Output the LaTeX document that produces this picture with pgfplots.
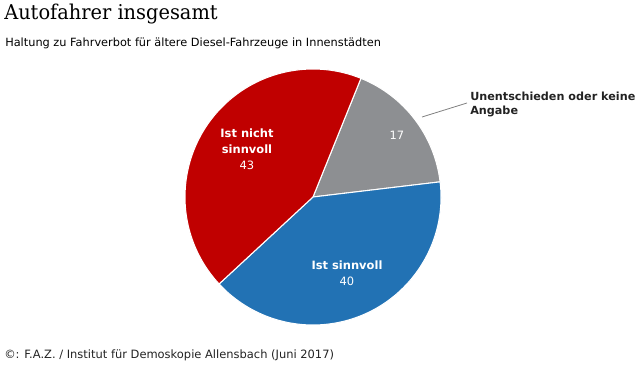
\documentclass[border=0pt]{standalone}
\usepackage{fontspec}
\setmainfont{DejaVu Sans}
\newfontfamily\titlefont[FakeStretch=0.95]{DejaVu Serif}
\usepackage{pgfplots}
\usepackage{pgfplotstable}
\pgfplotsset{compat=1.18}
\definecolor{cred}{HTML}{C00000}
\definecolor{cblue}{HTML}{2272B4}
\definecolor{cgrey}{HTML}{8D8F92}
\definecolor{ctext}{HTML}{222222}
\pgfplotstableread{
label value
Unentschieden 17
Sinnvoll 40
Nichtsinnvoll 43
}\piedata
\begin{document}
\begin{tikzpicture}
\pgfplotstablegetelem{0}{value}\of\piedata \let\va\pgfplotsretval
\pgfplotstablegetelem{1}{value}\of\piedata \let\vb\pgfplotsretval
\pgfplotstablegetelem{2}{value}\of\piedata \let\vc\pgfplotsretval
\pgfmathsetmacro\aA{68}
\pgfmathsetmacro\aB{\aA-3.6*\va}
\pgfmathsetmacro\aC{\aB-3.6*\vb}
\pgfmathsetmacro\aD{\aC-3.6*\vc}
\begin{axis}[scale only axis, width=480pt, height=273.75pt,
  xmin=0, xmax=640, ymin=0, ymax=365, hide axis, clip=false]
\path (axis cs:0,0) rectangle (axis cs:640,365);
\fill[cgrey, draw=white, line width=0.8pt] (axis cs:313,168) -- ++(\aA:96pt) arc[start angle=\aA, end angle=\aB, radius=96pt] -- cycle;
\fill[cblue, draw=white, line width=0.8pt] (axis cs:313,168) -- ++(\aB:96pt) arc[start angle=\aB, end angle=\aC, radius=96pt] -- cycle;
\fill[cred, draw=white, line width=0.8pt] (axis cs:313,168) -- ++(\aC:96pt) arc[start angle=\aC, end angle=\aD, radius=96pt] -- cycle;
% titles
\node[anchor=base west, text=black, font=\titlefont\fontsize{15.3}{18}\selectfont, inner sep=0pt] at (axis cs:4,345) {Autofahrer insgesamt};
\node[anchor=base west, text=black, font=\fontsize{8.5}{10}\selectfont, inner sep=0pt] at (axis cs:5,318) {Haltung zu Fahrverbot für ältere Diesel-Fahrzeuge in Innenstädten};
\node[anchor=base west, text=ctext, font=\fontsize{8.6}{10}\selectfont, inner sep=0pt] at (axis cs:4,7) {©: F.A.Z. / Institut für Demoskopie Allensbach (Juni 2017)};
% slice labels
\node[text=white, align=center, font=\fontsize{8.6}{12}\selectfont, inner sep=0pt] at (axis cs:247,216) {\textbf{Ist nicht}\\\textbf{sinnvoll}\\\vc};
\node[text=white, align=center, font=\fontsize{8.6}{12}\selectfont, inner sep=0pt] at (axis cs:347,92) {\textbf{Ist sinnvoll}\\\vb};
\node[text=white, font=\fontsize{8.6}{12}\selectfont, inner sep=0pt] at (axis cs:397,230) {\va};
\draw[gray, line width=0.6pt] (axis cs:422,248) -- (axis cs:467,262);
\node[anchor=west, text=ctext, align=left, font=\bfseries\fontsize{8.4}{10.5}\selectfont, inner sep=0pt] at (axis cs:470,261) {Unentschieden oder keine\\Angabe};
\end{axis}
\end{tikzpicture}
\end{document}
